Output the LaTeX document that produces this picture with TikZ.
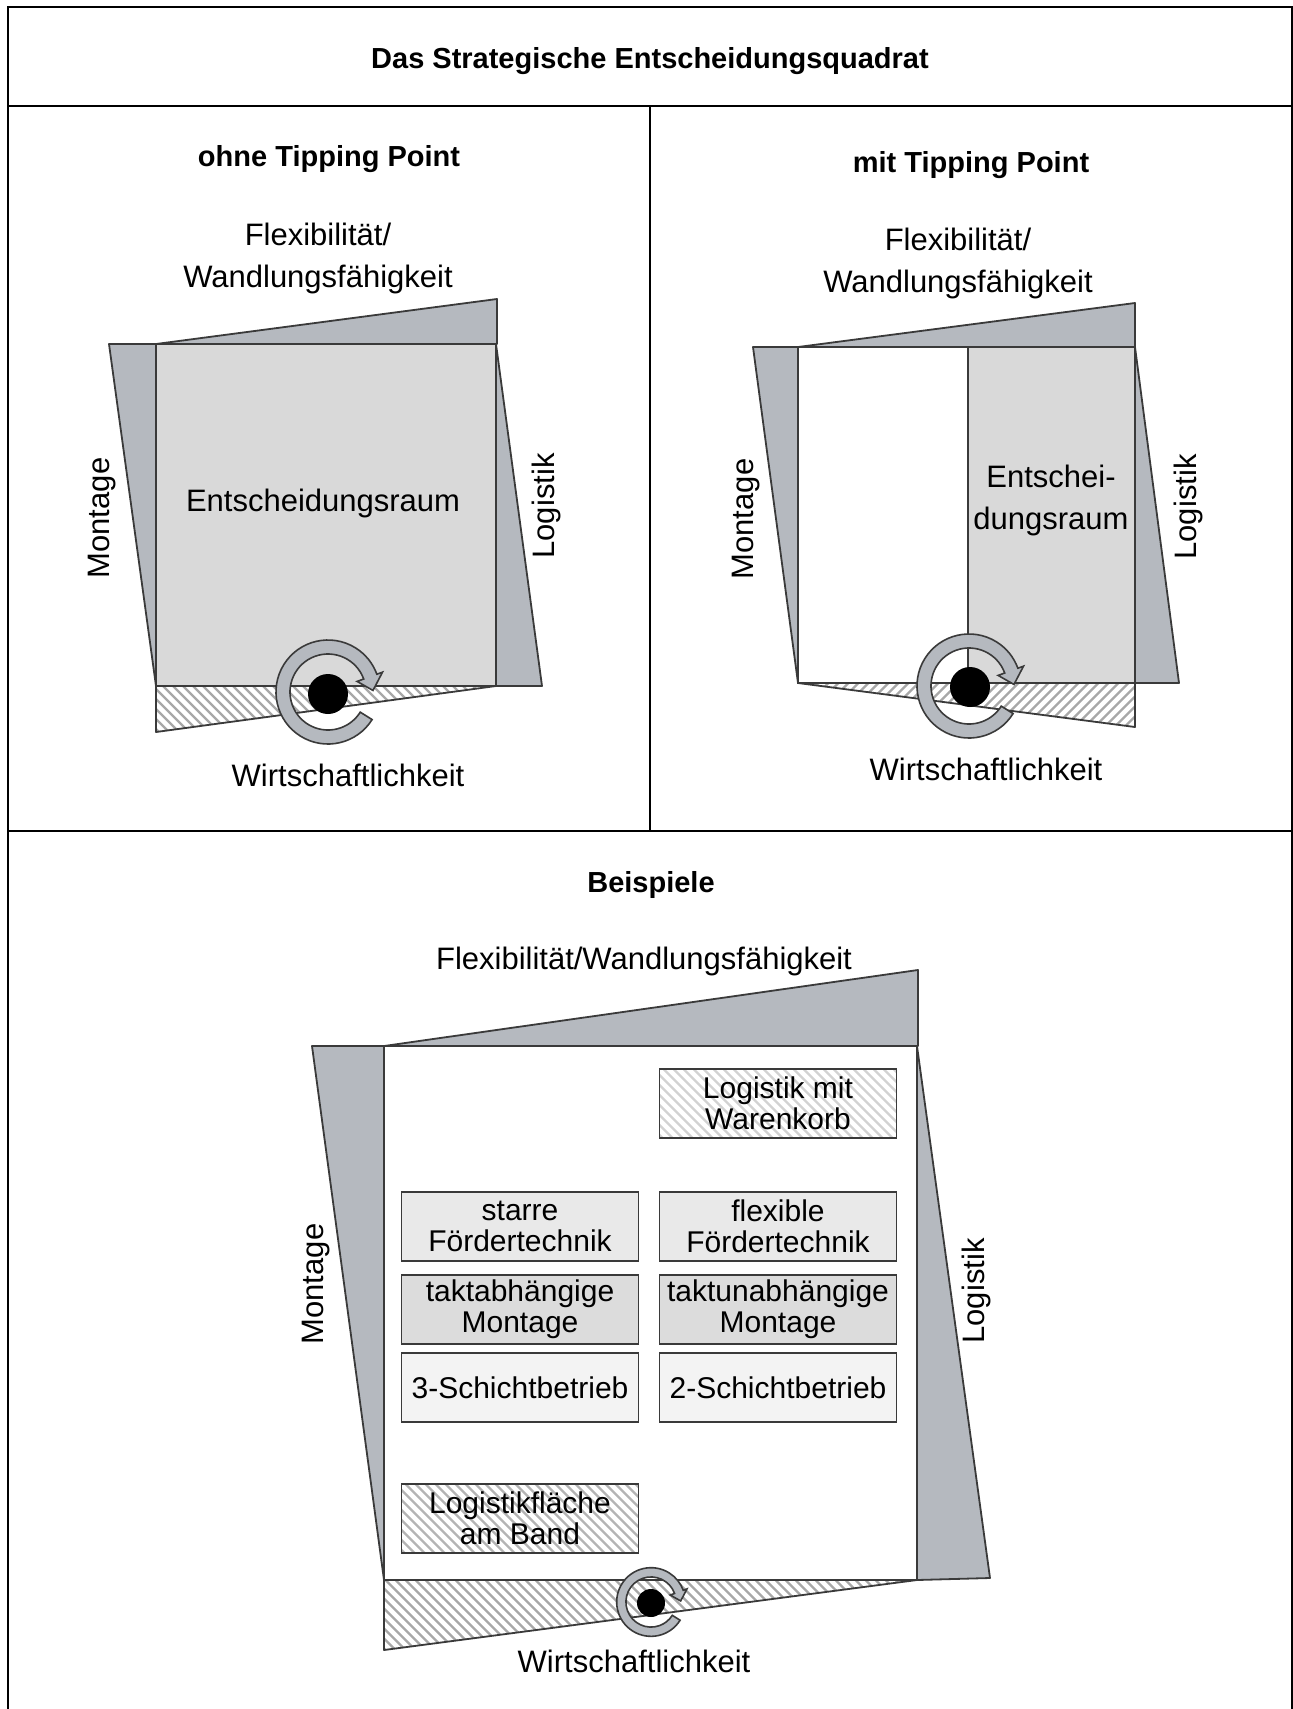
\documentclass[tikz,border=0pt]{standalone}
\usepackage{fontspec}
\setmainfont{Liberation Sans}
\usetikzlibrary{calc}
\definecolor{wedge}{HTML}{B5B9BF}
\definecolor{sq}{HTML}{D9D9D9}
\definecolor{edge}{HTML}{3A3A3A}
\definecolor{hatchc}{HTML}{A8A8A8}
\definecolor{hatchl}{HTML}{D2D2D2}
\definecolor{hatchm}{HTML}{B4B4B4}
\definecolor{boxf}{HTML}{E9E9E9}
\definecolor{boxt}{HTML}{DCDCDC}
\definecolor{boxs}{HTML}{F3F3F3}
\tikzset{
  frameline/.style={draw=black, line width=2.2},
  wedgep/.style={fill=wedge, draw=edge, line width=1.8, line join=round},
  sqp/.style={draw=edge, line width=1.8},
  hatchnw/.style={path picture={\foreach \i in {-700,-690,...,700}{\draw[line width=2.4, draw=#1] ($(path picture bounding box.center)+(\i,0)+(-400,-400)$) -- ++(800,800);}}},
  hatchne/.style={path picture={\foreach \i in {-700,-690,...,700}{\draw[line width=2.4, draw=#1] ($(path picture bounding box.center)+(\i,0)+(-400,400)$) -- ++(800,-800);}}},
  lab/.style={font=\fontsize{31}{42}\selectfont, inner sep=0},
  boldlab/.style={font=\fontsize{29}{36}\selectfont\bfseries, inner sep=0},
  boxlab/.style={draw=edge, line width=1.8, minimum width=237, minimum height=69, inner sep=0, align=center, font=\fontsize{30}{31}\selectfont},
  rotarrow/.pic={
    \path[fill=wedge, draw=edge, line width=1.6, line join=miter]
      (32:52) arc[start angle=32, end angle=340, radius=52]
      -- (340:58) -- (358:45) -- (340:31) -- (340:38)
      arc[start angle=340, end angle=32, radius=38] -- cycle;
  }
}
\begin{document}
\begin{tikzpicture}[x=1pt, y=-1pt]
\useasboundingbox (0,0) rectangle (1293,1709);
% frame
\draw[frameline] (8,7) rectangle (1292,1720);
\draw[frameline] (8,106) -- (1292,106);
\draw[frameline] (8,831) -- (1292,831);
\draw[frameline] (650,106) -- (650,831);
\node[boldlab, anchor=base] (title) at (650,68) {Das Strategische Entscheidungsquadrat};

% ---------- left panel
\node[boldlab, anchor=base] (tA) at (329,166) {ohne Tipping Point};
\node[lab, anchor=base] (fA1) at (318,245) {Flexibilität/};
\node[lab, anchor=base] (fA2) at (318,287) {Wandlungsfähigkeit};
\path[wedgep] (156,344) -- (497,299) -- (497,344) -- cycle;
\path[wedgep] (109,344) -- (156,344) -- (156,686) -- cycle;
\path[wedgep] (496,344) -- (542,686) -- (496,686) -- cycle;
\path[sqp, fill=sq] (156,344) rectangle (496,686);
\path[fill=white, hatchnw=hatchc] (156,686) -- (496,686) -- (156,732) -- cycle;
\path[sqp, line join=round] (156,686) -- (496,686) -- (156,732) -- cycle;
\node[lab] (eA) at (323,503) {Entscheidungsraum};
\node[lab, rotate=90] (mA) at (102,518) {Montage};
\node[lab, rotate=90] (lA) at (546,506) {Logistik};
\pic at (328,692) {rotarrow};
\fill (328,694) circle[radius=20];
\node[lab, anchor=base] (wA) at (348,786) {Wirtschaftlichkeit};

% ---------- right panel
\node[boldlab, anchor=base] (tB) at (971,172) {mit Tipping Point};
\node[lab, anchor=base] (fB1) at (958,250) {Flexibilität/};
\node[lab, anchor=base] (fB2) at (958,292) {Wandlungsfähigkeit};
\path[wedgep] (798,347) -- (1135,303) -- (1135,347) -- cycle;
\path[wedgep] (753,347) -- (798,347) -- (798,683) -- cycle;
\path[wedgep] (1135,347) -- (1179,683) -- (1135,683) -- cycle;
\path[fill=white] (798,347) rectangle (968,683);
\path[fill=sq] (968,347) rectangle (1135,683);
\path[sqp] (798,347) rectangle (1135,683);
\draw[sqp] (968,347) -- (968,683);
\path[fill=white, hatchne=hatchc] (798,683) -- (1135,683) -- (1135,727) -- cycle;
\path[sqp, line join=round] (798,683) -- (1135,683) -- (1135,727) -- cycle;
\node[lab, align=center, font=\fontsize{31}{42}\selectfont] (eB) at (1051,500) {Entschei-\\dungsraum};
\node[lab, rotate=90] (mB) at (746,519) {Montage};
\node[lab, rotate=90] (lB) at (1188,507) {Logistik};
\pic at (969,686) {rotarrow};
\fill (970,687) circle[radius=20];
\node[lab, anchor=base] (wB) at (986,780) {Wirtschaftlichkeit};

% ---------- bottom panel
\node[boldlab, anchor=base] (tC) at (651,892) {Beispiele};
\node[lab, anchor=base] (fC) at (644,969) {Flexibilität/Wandlungsfähigkeit};
\path[wedgep] (384,1046) -- (918,970) -- (918,1046) -- cycle;
\path[wedgep] (312,1046) -- (384,1046) -- (384,1580) -- cycle;
\path[wedgep] (917,1046) -- (990,1578) -- (917,1580) -- cycle;
\path[sqp, fill=white] (384,1046) rectangle (917,1580);
\path[fill=white, hatchnw=hatchc] (384,1580) -- (917,1580) -- (384,1650) -- cycle;
\path[sqp, line join=round] (384,1580) -- (917,1580) -- (384,1650) -- cycle;
\node[lab, rotate=90] (mC) at (316,1284) {Montage};
\node[lab, rotate=90] (lC) at (976,1291) {Logistik};

\node[boxlab, fill=white, hatchnw=hatchl] (b1) at (778,1103.5) {Logistik mit\\Warenkorb};
\node[boxlab, fill=boxf] (b2) at (520,1226.5) {starre\\Fördertechnik};
\node[boxlab, fill=boxf] (b3) at (778,1226.5) {flexible\\Fördertechnik};
\node[boxlab, fill=boxt] (b4) at (520,1309.5) {taktabhängige\\Montage};
\node[boxlab, fill=boxt] (b5) at (778,1309.5) {taktunabhängige\\Montage};
\node[boxlab, fill=boxs] (b6) at (520,1387.5) {3-Schichtbetrieb};
\node[boxlab, fill=boxs] (b7) at (778,1387.5) {2-Schichtbetrieb};
\node[boxlab, fill=white, hatchnw=hatchm] (b8) at (520,1518.5) {Logistikfläche\\am Band};

\pic[scale=0.66] at (651,1602) {rotarrow};
\fill (651,1603) circle[radius=14];
\node[lab, anchor=base] (wC) at (634,1672) {Wirtschaftlichkeit};
\end{tikzpicture}
\end{document}
